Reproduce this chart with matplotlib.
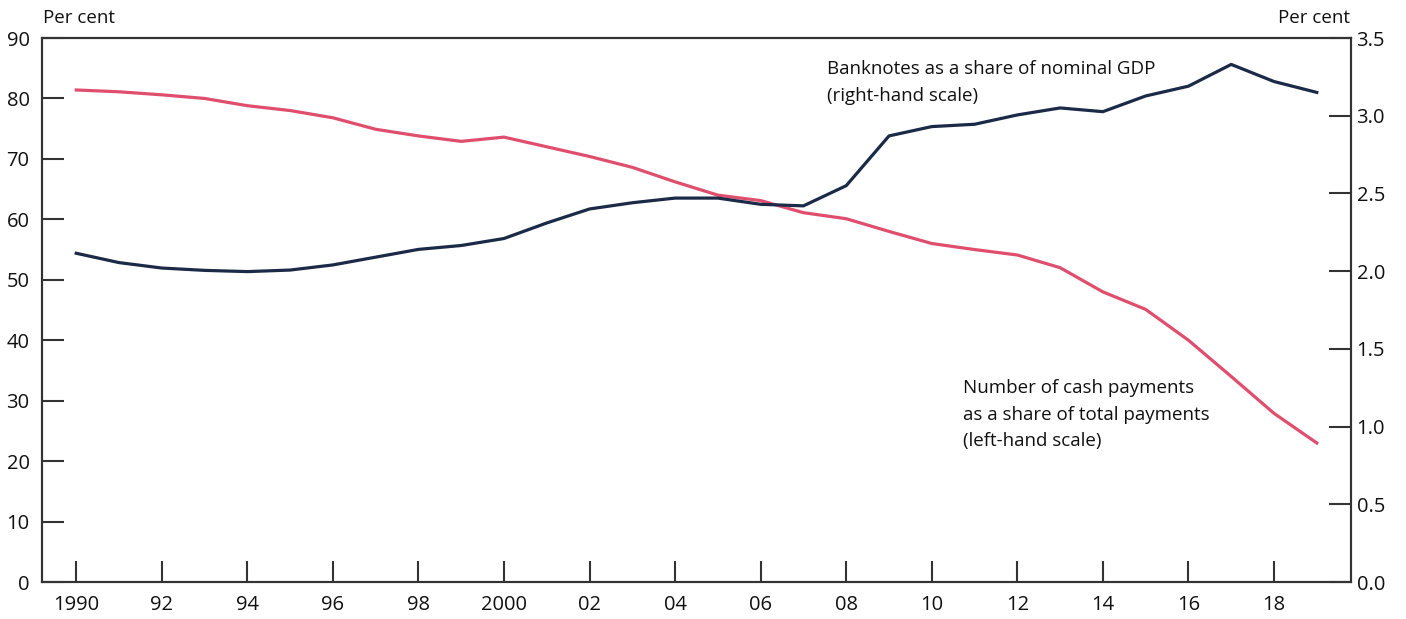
import matplotlib
matplotlib.use("Agg")
import matplotlib.pyplot as plt

years = list(range(1990, 2020))
cash_share = [81.4, 81.1, 80.6, 80.0, 78.8, 78.0, 76.8, 74.9, 73.8, 72.9,
              73.6, 72.0, 70.4, 68.6, 66.2, 64.0, 63.1, 61.1, 60.1, 58.0,
              56.0, 55.0, 54.1, 52.0, 48.0, 45.1, 40.0, 34.0, 27.9, 23.0]
banknotes_gdp = [2.115, 2.055, 2.02, 2.005, 1.997, 2.007, 2.04, 2.09, 2.14, 2.165,
                 2.21, 2.31, 2.40, 2.44, 2.47, 2.47, 2.43, 2.42, 2.55, 2.87,
                 2.93, 2.945, 3.005, 3.05, 3.026, 3.127, 3.19, 3.33, 3.22, 3.15]
x_ticks = list(range(1990, 2020, 2))
x_labels = ["1990", "92", "94", "96", "98", "2000", "02", "04", "06", "08",
            "10", "12", "14", "16", "18"]
left_ticks = list(range(0, 91, 10))
right_ticks = [0.0, 0.5, 1.0, 1.5, 2.0, 2.5, 3.0, 3.5]

RED = "#E04E6E"
NAVY = "#1B2A47"
SPINE = "#333333"
FONT = "Open Sans"
plt.rcParams["font.family"] = [FONT, "DejaVu Sans"]

fig = plt.figure(figsize=(14.06, 6.19), dpi=100)
ax = fig.add_axes([42/1406, 1 - 582/619, (1351-42)/1406, (582-38)/619])
ax2 = ax.twinx()

ax.plot(years, cash_share, color=RED, lw=2.3, solid_joinstyle="round", zorder=3)
ax2.plot(years, banknotes_gdp, color=NAVY, lw=2.3, solid_joinstyle="round", zorder=3)

ax.set_xlim(1989.2, 2019.8)
ax.set_ylim(0, 90)
ax2.set_ylim(0, 3.5)

ax.set_xticks(x_ticks)
ax.set_xticklabels(x_labels)
ax.set_yticks(left_ticks)
ax2.set_yticks(right_ticks)
ax2.set_yticklabels([f"{v:.1f}" for v in right_ticks])

for a in (ax, ax2):
    for s in a.spines.values():
        s.set_color(SPINE)
        s.set_linewidth(1.5)
ax.tick_params(axis="x", direction="in", length=15, width=1.5, color=SPINE,
               labelsize=14.5, pad=9, labelcolor="#111111")
ax.tick_params(axis="y", direction="in", length=16, width=1.5, color=SPINE,
               labelsize=14.5, pad=9, labelcolor="#111111")
ax2.tick_params(axis="y", direction="in", length=16, width=1.5, color=SPINE,
                labelsize=14.5, pad=4, labelcolor="#111111")

fig.text(43/1406, 1 - 18/619, "Per cent", fontsize=13.5, ha="left", va="center", color="#111111")
fig.text(1350/1406, 1 - 18/619, "Per cent", fontsize=13.5, ha="right", va="center", color="#111111")

ax.text(2007.54, 82.6, "Banknotes as a share of nominal GDP\n(right-hand scale)",
        fontsize=13.5, ha="left", va="center", linespacing=1.63, color="#111111")
ax.text(2010.74, 27.7, "Number of cash payments\nas a share of total payments\n(left-hand scale)",
        fontsize=13.5, ha="left", va="center", linespacing=1.63, color="#111111")

fig.savefig("out.png", dpi=100)
